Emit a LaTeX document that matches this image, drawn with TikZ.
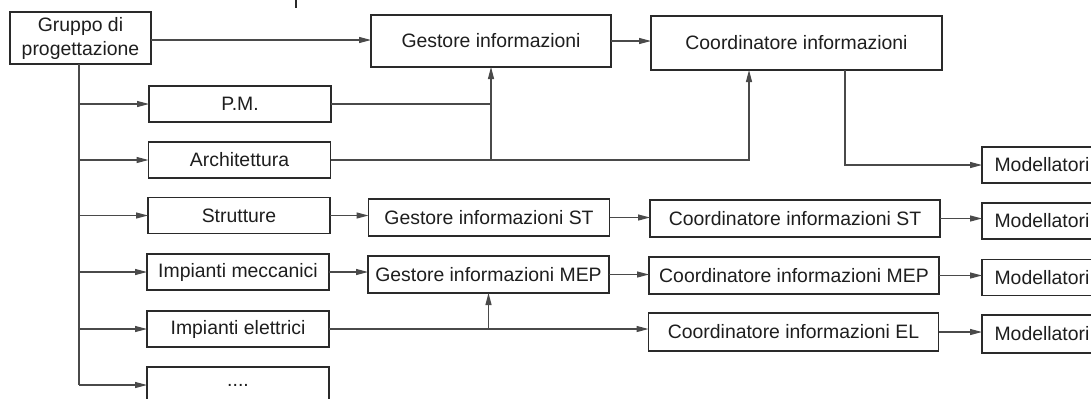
\documentclass[tikz,border=0pt]{standalone}
\usepackage{fontspec}
\setmainfont{Liberation Sans}
\usetikzlibrary{arrows.meta}
\definecolor{boxc}{HTML}{2A2A2A}
\definecolor{linec}{HTML}{4A4A4A}
\definecolor{txt}{HTML}{1E1E1E}
\tikzset{
  box/.style={draw=boxc, line width=0.9pt, inner sep=0pt, outer sep=0pt,
    font=\fontsize{9.7}{12}\selectfont, text=txt, align=center},
  leftbox/.style={box, minimum width=91pt, minimum height=18pt},
  midbox/.style={box, minimum width=120.5pt, minimum height=18.5pt},
  coordbox/.style={box, minimum width=145pt, minimum height=18.5pt},
  modbox/.style={box, minimum width=60pt, minimum height=18pt},
  conn/.style={draw=linec, line width=0.6pt},
  arr/.style={conn, -{Triangle[length=6pt,width=3pt]}},
}
\begin{document}
\begin{tikzpicture}[x=0.5pt, y=-0.5pt]
\useasboundingbox (0,0) rectangle (1091,398);
\fill[white] (0,0) rectangle (1091,398);
% nodes
\node[box, minimum width=70.5pt, minimum height=26pt] (gruppo) at (80.5,38) {Gruppo di\\progettazione};
\node[box, minimum width=120pt, minimum height=26pt] (gest) at (491,41) {Gestore informazioni};
\node[box, minimum width=145.5pt, minimum height=27pt] (coord) at (796.5,43) {Coordinatore informazioni};
\node[leftbox] (pm) at (240,104) {P.M.};
\node[leftbox] (arch) at (239.5,160) {Architettura};
\node[leftbox] (strut) at (239,215.5) {Strutture};
\node[leftbox] (mecc) at (238,272) {Impianti meccanici};
\node[leftbox] (elet) at (238,329) {Impianti elettrici};
\node[leftbox] (dots) at (238,385) {....};
\node[midbox] (gestST) at (489,217.5) {Gestore informazioni ST};
\node[midbox] (gestMEP) at (488.5,274.5) {Gestore informazioni MEP};
\node[coordbox] (coordST) at (795,218.5) {Coordinatore informazioni ST};
\node[coordbox] (coordMEP) at (794,275.5) {Coordinatore informazioni MEP};
\node[coordbox, minimum height=19pt] (coordEL) at (793.5,332) {Coordinatore informazioni EL};
\node[modbox] (mod1) at (1042,165) {Modellatori};
\node[modbox] (mod2) at (1042,221) {Modellatori};
\node[modbox] (mod3) at (1042,277.5) {Modellatori};
\node[modbox, minimum height=19pt] (mod4) at (1042,334) {Modellatori};
% helper coordinates
\path (gruppo.south) ++(-1.5,0) coordinate (trunk);
\path (gruppo.east) ++(0,2) coordinate (gOut);
\path (coord.south) ++(-47.5,0) coordinate (cIn);
\path (coord.south) ++(48.5,0) coordinate (cOut);
\coordinate (mark) at (296,0);
% top mark
\draw[boxc, line width=1pt] (mark) -- ++(0,8);
% connectors
\draw[arr] (gOut) -- (gOut -| gest.west);
\draw[conn] (trunk) -- (trunk |- dots.west);
\foreach \n in {pm,arch,strut,mecc,elet,dots}
  \draw[arr] (trunk |- \n.west) -- (\n.west);
\draw[conn] (pm.east) -- (pm.east -| gest.south);
\draw[arr] (arch.east -| gest.south) -- (gest.south);
\draw[arr] (arch.east) -| (cIn);
\draw[arr] (gest.east) -- (gest.east -| coord.west);
\draw[arr] (cOut) |- (mod1.west);
\draw[arr] (strut.east) -- (strut.east -| gestST.west);
\draw[arr] (gestST.east) -- (gestST.east -| coordST.west);
\draw[arr] (coordST.east) -- (coordST.east -| mod2.west);
\draw[arr] (mecc.east) -- (mecc.east -| gestMEP.west);
\draw[arr] (gestMEP.east) -- (gestMEP.east -| coordMEP.west);
\draw[arr] (coordMEP.east) -- (coordMEP.east -| mod3.west);
\draw[arr] (elet.east) -- (elet.east -| coordEL.west);
\draw[arr] (elet.east -| gestMEP.south) -- (gestMEP.south);
\draw[arr] (coordEL.east) -- (coordEL.east -| mod4.west);
\end{tikzpicture}
\end{document}
